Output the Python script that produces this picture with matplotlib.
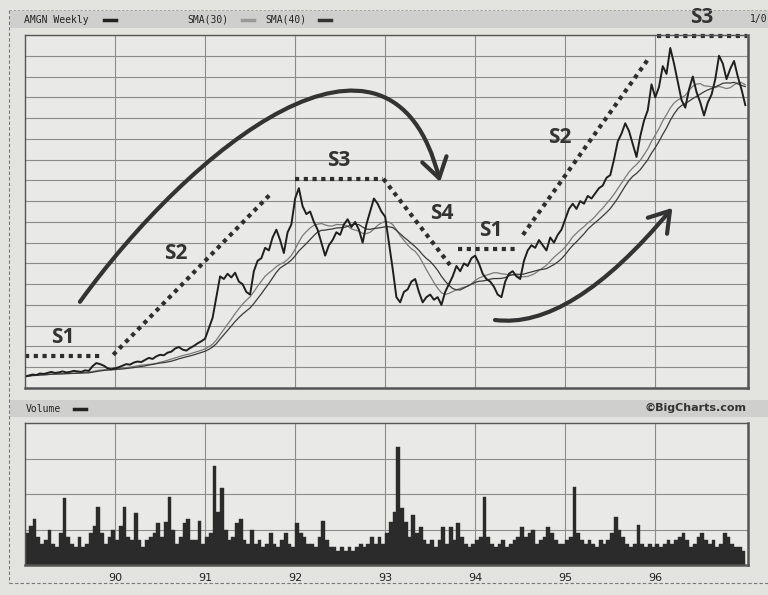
import numpy as np
import pandas as pd
import matplotlib
matplotlib.use("Agg")
import matplotlib.pyplot as plt
from matplotlib.patches import FancyArrowPatch, Rectangle
from matplotlib.path import Path
from matplotlib.lines import Line2D

# weekly chart of AMGN, sampled every half month (24 points per year)
start_year = 1989
price_89 = [2.2, 2.4, 2.6, 2.5, 2.8, 2.7, 2.9, 3.1, 2.9, 3.0, 3.2, 3.0,
            3.1, 3.3, 3.2, 3.1, 3.4, 3.3, 4.2, 4.8, 4.6, 4.3, 3.8, 3.6]
price_90 = [3.8, 4.0, 4.3, 4.6, 4.5, 4.9, 5.1, 5.0, 5.4, 5.8, 5.6, 6.1,
            6.4, 6.3, 6.8, 7.0, 7.6, 7.9, 7.4, 7.2, 7.7, 8.1, 8.6, 9.0]
price_91 = [9.5, 11.5, 13.5, 17.5, 21.5, 21.0, 22.0, 21.3, 22.2, 20.5, 20.0, 18.5,
            18.0, 22.5, 24.5, 25.0, 27.0, 26.5, 29.0, 30.5, 28.5, 26.0, 30.0, 31.5]
price_92 = [36.5, 38.5, 35.0, 33.5, 34.0, 32.0, 30.5, 28.0, 25.5, 27.5, 28.5, 30.0,
            29.5, 31.5, 32.5, 31.0, 32.0, 30.5, 28.0, 31.5, 34.0, 36.5, 35.5, 34.0]
price_93 = [33.0, 28.0, 23.0, 17.5, 16.5, 18.5, 19.0, 20.5, 21.0, 18.5, 16.5, 17.5,
            18.0, 17.0, 17.5, 16.0, 18.5, 20.0, 21.5, 23.5, 22.5, 24.0, 23.5, 25.0]
price_94 = [25.5, 24.0, 22.0, 21.0, 20.5, 19.5, 18.0, 17.5, 20.5, 22.0, 22.5, 21.5,
            21.0, 24.5, 26.5, 27.5, 27.0, 28.5, 27.5, 26.5, 29.0, 28.0, 29.5, 30.5]
price_95 = [32.5, 34.5, 35.5, 34.5, 36.0, 35.5, 37.0, 36.5, 37.5, 38.5, 39.0, 40.5,
            41.0, 44.0, 47.5, 49.0, 51.0, 49.5, 47.0, 44.5, 48.5, 51.5, 53.5, 58.5]
price_96 = [56.0, 58.0, 62.0, 60.5, 65.5, 62.5, 59.0, 55.5, 54.0, 57.5, 60.0, 57.0,
            55.0, 52.5, 55.0, 56.5, 59.5, 64.0, 62.5, 59.5, 61.5, 63.0, 60.0, 57.5, 54.5]

vol_89 = [4.5, 5.5, 6.5, 4.0, 3.0, 3.5, 5.0, 3.0, 2.5, 4.5, 9.4, 4.0,
          3.0, 2.5, 4.0, 2.5, 3.0, 4.5, 5.5, 8.2, 4.5, 3.0, 4.0, 5.0]
vol_90 = [3.5, 5.5, 8.2, 4.0, 3.5, 7.3, 3.5, 2.5, 3.5, 4.0, 4.5, 5.9,
          4.0, 6.0, 9.6, 5.0, 3.0, 4.0, 5.9, 6.5, 3.5, 3.5, 6.2, 3.0]
vol_91 = [4.0, 4.5, 14.0, 7.5, 10.8, 5.0, 3.5, 4.0, 5.9, 6.5, 3.5, 3.0,
          5.0, 3.0, 3.5, 2.5, 3.0, 4.5, 3.0, 2.5, 3.5, 4.5, 3.0, 2.5]
vol_92 = [5.9, 4.5, 4.0, 3.0, 3.0, 2.5, 4.0, 6.2, 3.5, 2.5, 2.5, 2.0,
          2.5, 2.0, 2.5, 2.0, 2.5, 3.0, 2.5, 3.0, 4.0, 3.0, 4.0, 3.0]
vol_93 = [4.5, 6.0, 7.5, 16.6, 8.0, 6.0, 4.0, 7.0, 4.5, 5.4, 3.5, 3.0,
          3.5, 2.5, 3.5, 5.4, 3.0, 5.4, 3.5, 5.9, 4.0, 3.0, 2.5, 3.0]
vol_94 = [3.5, 4.0, 9.6, 4.0, 3.0, 2.5, 3.0, 3.5, 2.5, 3.0, 3.5, 4.0,
          5.4, 4.0, 4.5, 5.0, 3.0, 3.5, 4.0, 5.4, 4.5, 3.5, 3.0, 3.0]
vol_95 = [3.5, 4.0, 11.0, 4.5, 3.5, 3.0, 3.5, 3.0, 2.5, 3.5, 3.0, 3.5,
          4.5, 6.8, 5.0, 4.0, 3.0, 2.5, 3.0, 5.6, 3.0, 2.5, 3.0, 2.5]
vol_96 = [3.0, 2.5, 3.0, 3.5, 3.0, 3.5, 4.0, 4.5, 3.5, 2.5, 3.0, 4.0,
          4.5, 3.5, 3.0, 3.5, 2.5, 3.0, 4.5, 4.0, 3.0, 2.5, 2.5, 2.0]

year_labels = ["90", "91", "92", "93", "94", "95", "96"]

price = np.array(price_89 + price_90 + price_91 + price_92 + price_93 + price_94 + price_95 + price_96)
volume = np.array(vol_89 + vol_90 + vol_91 + vol_92 + vol_93 + vol_94 + vol_95 + vol_96)
t_price = start_year + np.arange(len(price)) / 24
t_vol = start_year + np.arange(len(volume)) / 24
sma30 = pd.Series(price).rolling(14, min_periods=1).mean()
sma40 = pd.Series(price).rolling(18, min_periods=1).mean()

DARK = "#2e2e2e"
GRID = "#8c8c8c"

fig = plt.figure(figsize=(7.68, 5.95), dpi=100)
fig.patch.set_facecolor("#e3e3e0")

# header bands (behind everything)
for ytop in (11, 400):
    fig.patches.append(Rectangle((10 / 768, 1 - (ytop + 17) / 595), 1, 17 / 595, transform=fig.transFigure,
                                 facecolor="#cfcfcd", edgecolor="none", zorder=-5))
# dashed frame of the chart
fig.add_artist(Line2D([9 / 768, 9 / 768], [1 - 10 / 595, 1 - 583 / 595], transform=fig.transFigure,
                      color="#777", lw=0.8, ls=(0, (3, 2))))
fig.add_artist(Line2D([9 / 768, 1], [1 - 583 / 595, 1 - 583 / 595], transform=fig.transFigure,
                      color="#777", lw=0.8, ls=(0, (3, 2))))
fig.add_artist(Line2D([9 / 768, 1], [1 - 10 / 595, 1 - 10 / 595], transform=fig.transFigure,
                      color="#999", lw=0.6, ls=(0, (3, 2))))

mono = "DejaVu Sans Mono"
fig.text(24 / 768, 1 - 20 / 595, "AMGN Weekly", family=mono, fontsize=7, color="#222", va="center")
fig.text(187 / 768, 1 - 20 / 595, "SMA(30)", family=mono, fontsize=7, color="#222", va="center")
fig.text(265 / 768, 1 - 20 / 595, "SMA(40)", family=mono, fontsize=7, color="#222", va="center")
fig.add_artist(Line2D([104 / 768, 116 / 768], [1 - 20 / 595] * 2, transform=fig.transFigure, color="#222", lw=2.5))
fig.add_artist(Line2D([242 / 768, 254 / 768], [1 - 20 / 595] * 2, transform=fig.transFigure, color="#999", lw=2.5))
fig.add_artist(Line2D([319 / 768, 331 / 768], [1 - 20 / 595] * 2, transform=fig.transFigure, color="#333", lw=2.5))
fig.text(750 / 768, 1 - 19 / 595, "1/0", family=mono, fontsize=7, color="#222", va="center")
fig.text(26 / 768, 1 - 409 / 595, "Volume", family=mono, fontsize=7, color="#222", va="center")
fig.add_artist(Line2D([74 / 768, 86 / 768], [1 - 409 / 595] * 2, transform=fig.transFigure, color="#222", lw=2.5))
fig.text(747 / 768, 1 - 408 / 595, "\u00a9BigCharts.com", fontsize=8, fontweight="bold",
         color="#333", ha="right", va="center")

ax = fig.add_axes([25 / 768, 1 - 388 / 595, 723 / 768, 353 / 595])
axv = fig.add_axes([25 / 768, 1 - 565 / 595, 723 / 768, 142 / 595])

for a in (ax, axv):
    a.set_facecolor("#e9e9e8")
    a.set_xlim(start_year, 1997.03)
    a.set_xticks(np.arange(1990, 1997))
    a.grid(True, color=GRID, lw=0.8)
    a.set_axisbelow(True)
    a.tick_params(length=0, labelleft=False)
    for s in a.spines.values():
        s.set_color("#555")
        s.set_linewidth(1.0)
    a.spines["bottom"].set_linewidth(1.8)
    a.spines["right"].set_linewidth(1.8)

ax.set_ylim(0, 68)
ax.set_yticks(np.arange(0, 69, 4))
ax.tick_params(labelbottom=False)

ax.plot(t_price, sma30, color="#7a7a7a", lw=0.9)
ax.plot(t_price, sma40, color="#3a3a3a", lw=0.9)
ax.plot(t_price, price, color="#1f1f1f", lw=1.4)

axv.set_ylim(0, 20)
axv.set_yticks([0, 5, 10, 15])
axv.bar(t_vol, volume, width=1 / 24, align="edge", color="#2b2b2b", edgecolor="#2b2b2b", lw=0.3)
axv.set_xticklabels(year_labels, fontsize=8, color="#222")
axv.tick_params(pad=6)

# stage annotations
dot = dict(color=DARK, lw=3, ls=(0, (1, 1.1)), solid_capstyle="butt")
ax.plot([1989.0, 1989.83], [6.2, 6.2], **dot)
ax.plot([1989.98, 1991.74], [6.4, 37.6], **dot)
ax.plot([1992.0, 1992.98], [40.3, 40.3], **dot)
ax.plot([1992.98, 1993.72], [40.3, 23.7], **dot)
ax.plot([1993.81, 1994.48], [26.8, 26.8], **dot)
ax.plot([1994.53, 1995.94], [29.5, 63.8], **dot)
ax.plot([1996.02, 1997.02], [67.8, 67.8], clip_on=False, **dot)

lab = dict(fontsize=15, fontweight="bold", color="#333", family="Open Sans", ha="center", va="center")
ax.text(1989.42, 9.8, "S1", **lab)
ax.text(1990.67, 26.0, "S2", **lab)
ax.text(1992.48, 43.9, "S3", **lab)
ax.text(1993.63, 33.7, "S4", **lab)
ax.text(1994.17, 30.4, "S1", **lab)
ax.text(1994.94, 48.2, "S2", **lab)
ax.text(1996.52, 71.4, "S3", clip_on=False, zorder=10, **lab)

arrow1 = Path([(1989.61, 16.6), (1990.83, 45.9), (1993.06, 77.6), (1993.61, 39.7)],
              [Path.MOVETO, Path.CURVE4, Path.CURVE4, Path.CURVE4])
ax.add_patch(FancyArrowPatch(path=arrow1, arrowstyle="->,head_length=0.7,head_width=0.45",
                             mutation_scale=20, color="#333", lw=3, transform=ax.transData, clip_on=False))
arrow2 = Path([(1994.22, 13.1), (1995.06, 11.2), (1996.19, 34.7)],
              [Path.MOVETO, Path.CURVE3, Path.CURVE3])
ax.add_patch(FancyArrowPatch(path=arrow2, arrowstyle="->,head_length=0.7,head_width=0.45",
                             mutation_scale=20, color="#333", lw=3, transform=ax.transData))

fig.savefig("out.png", dpi=100, facecolor=fig.get_facecolor())
